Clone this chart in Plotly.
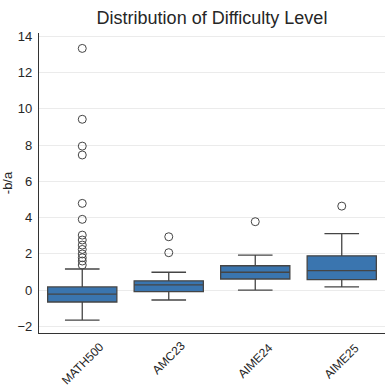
import plotly.graph_objects as go

categories = ["MATH500", "AMC23", "AIME24", "AIME25"]
q1 = [-0.66, -0.09, 0.61, 0.57]
median = [-0.22, 0.28, 0.98, 1.07]
q3 = [0.17, 0.51, 1.34, 1.89]
lower_whisker = [-1.66, -0.55, 0.0, 0.18]
upper_whisker = [1.16, 0.98, 1.93, 3.11]
outliers = {
    "MATH500": [13.33, 9.42, 7.94, 7.45, 4.78, 3.9, 3.03, 2.76, 2.48, 2.24, 1.99, 1.78, 1.6, 1.38],
    "AMC23": [2.94, 2.06],
    "AIME24": [3.77],
    "AIME25": [4.63],
}
y_ticks = [-2, 0, 2, 4, 6, 8, 10, 12, 14]

box_fill = "#3a75af"
edge = "#454545"
font = "Liberation Sans, Arial, sans-serif"
txt = "#262626"

fig = go.Figure()
fig.add_trace(go.Box(
    x=categories, q1=q1, median=median, q3=q3,
    lowerfence=lower_whisker, upperfence=upper_whisker,
    fillcolor=box_fill, line=dict(color=edge, width=1.3),
    width=0.8, whiskerwidth=0.5, boxpoints=False, showlegend=False,
    hoverinfo="skip",
))
ox, oy = [], []
for c in categories:
    for v in outliers[c]:
        ox.append(c)
        oy.append(v)
fig.add_trace(go.Scatter(
    x=ox, y=oy, mode="markers", showlegend=False,
    marker=dict(symbol="circle-open", size=8, color=edge, line=dict(width=1, color=edge)),
))

# rotated category labels, centred under each tick (matplotlib ha="center" style)
plot_h = 386 - 33 - 53
label_size = 12
for c in categories:
    est_w = len(c) * 0.62 * label_size
    rot_h = (est_w + label_size) * 0.7071
    centre_px = 8 + rot_h / 2
    fig.add_annotation(
        x=c, xref="x", y=-centre_px / plot_h, yref="paper",
        text=c, textangle=-45, showarrow=False,
        xanchor="center", yanchor="middle",
        font=dict(family=font, size=label_size, color=txt),
    )

fig.update_layout(
    width=391, height=386,
    margin=dict(l=39, r=6, t=33, b=53),
    paper_bgcolor="white", plot_bgcolor="white",
    font=dict(family=font, size=13, color=txt),
    title=dict(text="Distribution of Difficulty Level", x=212/391, xanchor="center",
               y=1 - 18/386, yanchor="middle", font=dict(size=18, color=txt)),
    xaxis=dict(type="category", categoryorder="array", categoryarray=categories,
               range=[-0.5, 3.5], showticklabels=False, showgrid=False, automargin=False,
               showline=True, linecolor="#333333", linewidth=1.2, ticks=""),
    yaxis=dict(range=[-2.37, 14.18], tickvals=y_ticks, showgrid=True, automargin=False,
               gridcolor="#ebebeb", gridwidth=1, zeroline=False, ticklabelstandoff=3,
               showline=True, linecolor="#333333", linewidth=1.2, ticks=""),
)
fig.update_yaxes(title=dict(text="-b/a", font=dict(size=13, color=txt), standoff=8),
                 tickfont=dict(size=13, color=txt))
fig.write_html("out.html")
